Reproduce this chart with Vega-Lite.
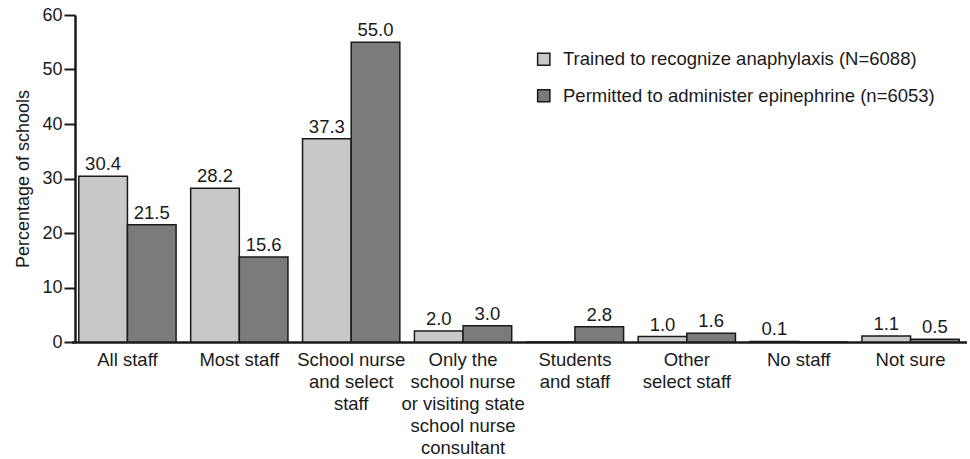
{
  "$schema": "https://vega.github.io/schema/vega-lite/v6.json",
  "width": 895,
  "height": 327,
  "autosize": "none",
  "padding": {"left": 71.5, "top": 15, "right": 0, "bottom": 117},
  "config": {
    "font": "Liberation Sans",
    "view": {"stroke": null},
    "axis": {"labelFont": "Liberation Sans", "titleFont": "Liberation Sans", "labelColor": "#1a1a1a", "titleColor": "#1a1a1a"},
    "legend": {"labelFont": "Liberation Sans"}
  },
  "data": {
    "values": [
      {"cat": "All staff", "series": "Trained to recognize anaphylaxis (N=6088)", "value": 30.4, "label": "30.4"},
      {"cat": "All staff", "series": "Permitted to administer epinephrine (n=6053)", "value": 21.5, "label": "21.5"},
      {"cat": "Most staff", "series": "Trained to recognize anaphylaxis (N=6088)", "value": 28.2, "label": "28.2"},
      {"cat": "Most staff", "series": "Permitted to administer epinephrine (n=6053)", "value": 15.6, "label": "15.6"},
      {"cat": "School nurse|and select|staff", "series": "Trained to recognize anaphylaxis (N=6088)", "value": 37.3, "label": "37.3"},
      {"cat": "School nurse|and select|staff", "series": "Permitted to administer epinephrine (n=6053)", "value": 55.0, "label": "55.0"},
      {"cat": "Only the|school nurse|or visiting state|school nurse|consultant", "series": "Trained to recognize anaphylaxis (N=6088)", "value": 2.0, "label": "2.0"},
      {"cat": "Only the|school nurse|or visiting state|school nurse|consultant", "series": "Permitted to administer epinephrine (n=6053)", "value": 3.0, "label": "3.0"},
      {"cat": "Students|and staff", "series": "Trained to recognize anaphylaxis (N=6088)", "value": 0, "label": ""},
      {"cat": "Students|and staff", "series": "Permitted to administer epinephrine (n=6053)", "value": 2.8, "label": "2.8"},
      {"cat": "Other|select staff", "series": "Trained to recognize anaphylaxis (N=6088)", "value": 1.0, "label": "1.0"},
      {"cat": "Other|select staff", "series": "Permitted to administer epinephrine (n=6053)", "value": 1.6, "label": "1.6"},
      {"cat": "No staff", "series": "Trained to recognize anaphylaxis (N=6088)", "value": 0.1, "label": "0.1"},
      {"cat": "No staff", "series": "Permitted to administer epinephrine (n=6053)", "value": 0, "label": ""},
      {"cat": "Not sure", "series": "Trained to recognize anaphylaxis (N=6088)", "value": 1.1, "label": "1.1"},
      {"cat": "Not sure", "series": "Permitted to administer epinephrine (n=6053)", "value": 0.5, "label": "0.5"}
    ]
  },
  "encoding": {
    "x": {
      "field": "cat", "type": "nominal", "sort": null,
      "scale": {"paddingInner": 0, "paddingOuter": 0},
      "axis": {
        "title": null, "labelAngle": 0, "ticks": false,
        "domainWidth": 2.5, "domainColor": "#1a1a1a",
        "labelExpr": "split(datum.value, '|')",
        "labelFontSize": 18.5, "labelLineHeight": 22, "labelPadding": 8,
        "labelBaseline": "top", "labelLimit": 0
      }
    },
    "xOffset": {
      "field": "series", "type": "nominal", "sort": null,
      "scale": {"paddingInner": 0, "paddingOuter": 0.15}
    },
    "y": {
      "field": "value", "type": "quantitative",
      "scale": {"domain": [0, 60], "nice": false},
      "axis": {
        "title": "Percentage of schools", "titleFontSize": 18, "titleFontWeight": "normal", "titlePadding": 9,
        "values": [0, 10, 20, 30, 40, 50, 60], "grid": false, "offset": -3.5,
        "labelFontSize": 18, "tickSize": 11, "tickWidth": 2, "tickColor": "#1a1a1a",
        "domainWidth": 2.5, "domainColor": "#1a1a1a", "labelPadding": 2
      }
    }
  },
  "layer": [
    {
      "mark": {"type": "bar", "stroke": "#1a1a1a", "strokeWidth": 1.5},
      "encoding": {
        "fill": {
          "field": "series", "type": "nominal", "sort": null,
          "scale": {"range": ["#c8c8c8", "#7a7b7d"]},
          "legend": {
            "title": null, "orient": "none", "legendX": 463, "legendY": 35,
            "symbolType": "square", "symbolSize": 150, "symbolStrokeColor": "#1a1a1a", "symbolStrokeWidth": 1.5,
            "labelFontSize": 18.5, "labelColor": "#1a1a1a", "rowPadding": 17.5, "labelOffset": 10, "labelLimit": 0
          }
        }
      }
    },
    {
      "mark": {"type": "text", "dy": -6, "fontSize": 18.5, "color": "#1a1a1a", "baseline": "alphabetic"},
      "encoding": {"text": {"field": "label"}}
    }
  ]
}
